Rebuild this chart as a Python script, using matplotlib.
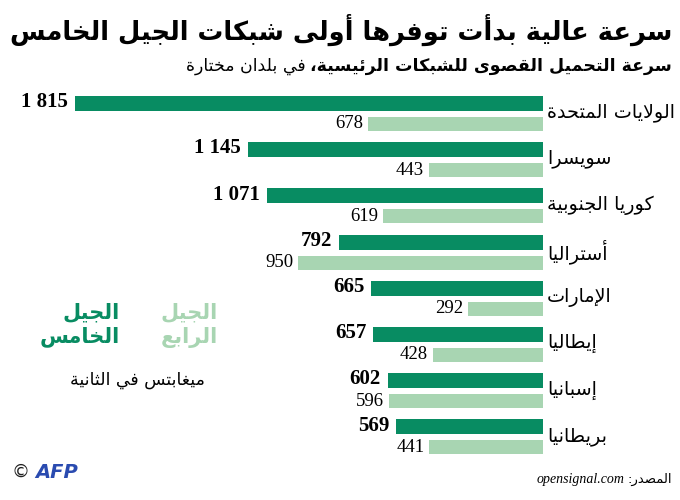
import matplotlib
matplotlib.use("Agg")
import matplotlib.pyplot as plt
import numpy as np

# --- data ---
countries = ["الولايات المتحدة", "سويسرا", "كوريا الجنوبية", "أستراليا",
             "الإمارات", "إيطاليا", "إسبانيا", "بريطانيا"]
speed_5g = [1815, 1145, 1071, 792, 665, 657, 602, 569]
speed_4g = [678, 443, 619, 950, 292, 428, 596, 441]
labels_5g = ["1 815", "1 145", "1 071", "792", "665", "657", "602", "569"]
labels_4g = ["678", "443", "619", "950", "292", "428", "596", "441"]

title = "سرعة عالية بدأت توفرها أولى شبكات الجيل الخامس"
subtitle_bold = "سرعة التحميل القصوى للشبكات الرئيسية،"
subtitle_reg = "في بلدان مختارة"
leg_5g = "الجيل\nالخامس"
leg_4g = "الجيل\nالرابع"
unit = "ميغابتس في الثانية"
source_ar = "المصدر:"
source_url = "opensignal.com"

DARK = "#088c62"
LIGHT = "#a8d5b2"

# --- minimal arabic shaping (matplotlib has no complex text layout) ---
_LETTERS = "ءآأؤإئابةتثجحخدذرزسشصضطظعغفقكلمنهوىي"
_NFORMS = [1, 2, 2, 2, 2, 4, 2, 4, 2, 4, 4, 4, 4, 4, 2, 2, 2, 2, 4, 4, 4, 4,
           4, 4, 4, 4, 4, 4, 4, 4, 4, 4, 4, 2, 2, 4]
FORMS = {}
_code = 0xFE80
for _ch, _n in zip(_LETTERS, _NFORMS):
    FORMS[_ch] = [chr(_code + k) for k in range(_n)]
    _code += _n
LAM_ALEF = {"آ": 0xFEF5, "أ": 0xFEF7, "إ": 0xFEF9, "ا": 0xFEFB}


def _line(text):
    u = []
    i = 0
    while i < len(text):
        c = text[i]
        if c == "ل" and i + 1 < len(text) and text[i + 1] in LAM_ALEF:
            b = LAM_ALEF[text[i + 1]]
            u.append([chr(b), chr(b + 1)])
            i += 2
        elif c in FORMS:
            u.append(FORMS[c])
            i += 1
        else:
            u.append(c)
            i += 1
    out = []
    for k, f in enumerate(u):
        if isinstance(f, str):
            out.append(f)
            continue
        prev = u[k - 1] if k > 0 else None
        nxt = u[k + 1] if k + 1 < len(u) else None
        jp = isinstance(prev, list) and len(prev) == 4 and len(f) >= 2
        jn = len(f) == 4 and isinstance(nxt, list) and len(nxt) >= 2
        idx = 3 if (jp and jn) else 1 if jp else 2 if jn else 0
        out.append(f[idx])
    return "".join(out)[::-1]


def ar(text):
    return "\n".join(_line(t) for t in text.split("\n"))


# --- figure ---
W, H = 680, 500
fig = plt.figure(figsize=(W / 100, H / 100), dpi=100)
fig.patch.set_facecolor("white")

zero_px = 543
px_per_unit = 0.258
pitch = 46.2
top_center = 113.75
y_top = top_center - pitch / 2
ax = fig.add_axes([0, 1 - (y_top + 8 * pitch) / H, zero_px / W, 8 * pitch / H])
ax.set_xlim(zero_px / px_per_unit, 0)
ax.set_ylim(7.5, -0.5)
ax.axis("off")

y = np.arange(len(countries))
ax.barh(y - 0.222, speed_5g, height=0.325, color=DARK, align="center")
ax.barh(y + 0.222, speed_4g, height=0.30, color=LIGHT, align="center")

for i in range(len(countries)):
    ax.annotate(labels_5g[i], (speed_5g[i], y[i] - 0.25), xytext=(-5, 0),
                textcoords="offset points", ha="right", va="center",
                fontsize=15, fontweight="bold", family="Liberation Serif")
    ax.annotate(labels_4g[i], (speed_4g[i], y[i] + 0.22), xytext=(-3.5, 0),
                textcoords="offset points", ha="right", va="center",
                fontsize=13.5, family="Liberation Serif")
    fig.text(547 / W, 1 - (top_center + i * pitch - 1) / H, ar(countries[i]),
             ha="left", va="center", fontsize=13.8, family="DejaVu Sans")

# title / subtitle
tt = fig.text(672 / W, 1 - 30 / H, ar(title), ha="right", va="center",
              fontsize=20, fontweight="bold", family="DejaVu Sans")
fig.canvas.draw()
tw = tt.get_window_extent().width
tt.set_fontsize(20 * 662 / tw)

t = fig.text(672 / W, 1 - 66 / H, ar(subtitle_bold), ha="right", va="center",
             fontsize=12.5, fontweight="bold", family="DejaVu Sans")
fig.canvas.draw()
bb = t.get_window_extent()
fig.text((bb.x0 - 5) / W, 1 - 66 / H, ar(subtitle_reg), ha="right", va="center",
         fontsize=12.5, family="DejaVu Sans")

# legend
fig.text(120 / W, 1 - 325 / H, ar(leg_5g), ha="right", va="center", color=DARK,
         fontsize=15, fontweight="bold", family="DejaVu Sans", linespacing=1.25)
fig.text(218 / W, 1 - 325 / H, ar(leg_4g), ha="right", va="center", color=LIGHT,
         fontsize=15, fontweight="bold", family="DejaVu Sans", linespacing=1.25)
fig.text(137 / W, 1 - 380 / H, ar(unit), ha="center", va="center",
         fontsize=12.5, family="DejaVu Sans")

# footer
s = fig.text(672 / W, 1 - 479 / H, ar(source_ar), ha="right", va="center",
             fontsize=9.5, family="DejaVu Sans")
fig.canvas.draw()
bb = s.get_window_extent()
fig.text((bb.x0 - 3) / W, 1 - 479 / H, source_url, ha="right", va="center",
         fontsize=10, style="italic", family="Liberation Serif")
fig.text(11 / W, 1 - 472 / H, "©", ha="left", va="center", fontsize=13,
         color="#222222", family="DejaVu Sans")
fig.text(35 / W, 1 - 472 / H, "AFP", ha="left", va="center", fontsize=14,
         fontweight="bold", style="italic", color="#2a4bb0", family="DejaVu Sans")

fig.savefig("out.png", dpi=100)
